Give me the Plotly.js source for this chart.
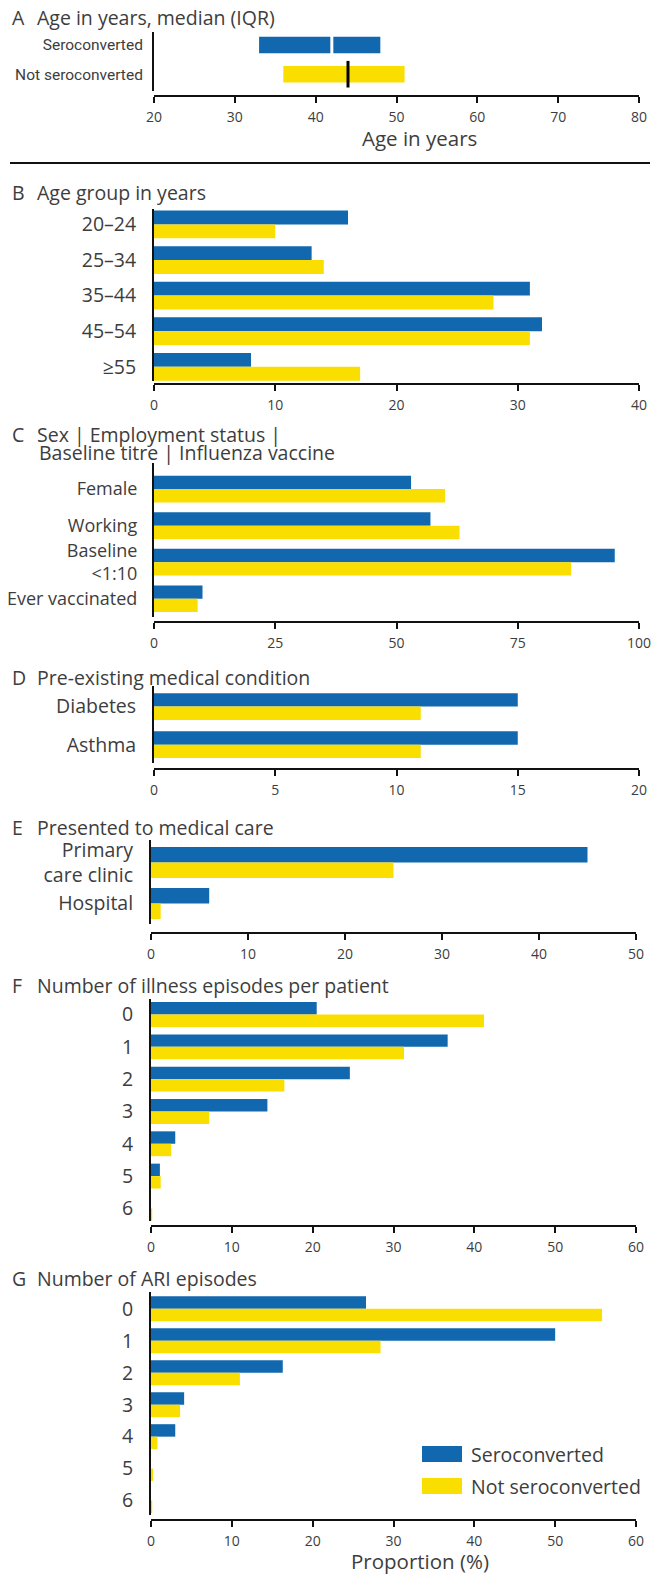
<!DOCTYPE html>
<html>
<head>
<meta charset="utf-8">
<script src="https://cdn.plot.ly/plotly-3.0.1.min.js"></script>
<style>
  html, body { margin: 0; padding: 0; background: #fff; }
  #chart { width: 661px; height: 1577px; }
</style>
</head>
<body>
<div id="chart"></div>
<script>
// ---- data ----
const seriesNames = ['Seroconverted', 'Not seroconverted'];
const seriesColors = ['#1168ae', '#fade00'];

// A: age, median and interquartile range
const ageQ1 = [33, 36];
const ageMedian = [42, 44];
const ageQ3 = [48, 51];

// B: age groups (%)
const ageGroups = ['20–24', '25–34', '35–44', '45–54', '≥55'];
const ageGroupSero = [16, 13, 31, 32, 8];
const ageGroupNotSero = [10, 14, 28, 31, 17];

// C: sex, employment, baseline titre, influenza vaccine (%)
const characteristics = ['Female', 'Working', 'Baseline<br>&lt;1:10', 'Ever vaccinated'];
const characteristicsSero = [53, 57, 95, 10];
const characteristicsNotSero = [60, 63, 86, 9];

// D: pre-existing conditions (%)
const conditions = ['Diabetes', 'Asthma'];
const conditionsSero = [15, 15];
const conditionsNotSero = [11, 11];

// E: medical care (%)
const careSettings = ['Primary<br>care clinic', 'Hospital'];
const careSero = [45, 6];
const careNotSero = [25, 1];

// F: illness episodes per patient (%)
const illnessEpisodes = ['0', '1', '2', '3', '4', '5', '6'];
const illnessSero = [20.5, 36.7, 24.6, 14.4, 3.0, 1.1, 0];
const illnessNotSero = [41.2, 31.3, 16.5, 7.2, 2.5, 1.2, 0.15];

// G: ARI episodes (%)
const ariEpisodes = ['0', '1', '2', '3', '4', '5', '6'];
const ariSero = [26.6, 50.0, 16.3, 4.1, 3.0, 0, 0];
const ariNotSero = [55.8, 28.4, 11.0, 3.6, 0.8, 0.25, 0.15];

const panelLetters = ['A', 'B', 'C', 'D', 'E', 'F', 'G'];
const panelTitles = [
  ['Age in years, median (IQR)'],
  ['Age group in years'],
  ['Sex | Employment status |', 'Baseline titre | Influenza vaccine'],
  ['Pre-existing medical condition'],
  ['Presented to medical care'],
  ['Number of illness episodes per patient'],
  ['Number of ARI episodes']
];
const ageAxisTitle = 'Age in years';
const proportionAxisTitle = 'Proportion (%)';

// ---- geometry (pixels) ----
const W = 661, H = 1577;
const px = x => x / W;
const py = y => 1 - y / H;

const panels = [
  { x0: 154, x1: 639, top: 32,   bottom: 91,   axisY: 96,   range: [20, 80],  dtick: 10, yRange: [1.575, -0.445], gap: 0,     titleY: [18],       labelSize: 15.5, standoff: 6 },
  { x0: 154, x1: 639, top: 209,  bottom: 381,  axisY: 384,  range: [0, 40],   dtick: 10, yRange: [4.40, -0.434],  gap: 0.22,  titleY: [193],      labelSize: 19.5, standoff: 12 },
  { x0: 154, x1: 639, top: 463,  bottom: 617,  axisY: 622,  range: [0, 100],  dtick: 25, yRange: [3.5, -0.714],   gap: 0.27,  titleY: [434, 452], labelSize: 18,   standoff: 11 },
  { x0: 154, x1: 639, top: 686,  bottom: 763,  axisY: 769,  range: [0, 20],   dtick: 5,  yRange: [1.48, -0.54],   gap: 0.3,   titleY: [677],      labelSize: 19.5, standoff: 12 },
  { x0: 151, x1: 636, top: 840,  bottom: 924,  axisY: 933,  range: [0, 50],   dtick: 10, yRange: [1.5, -0.55],    gap: 0.245, titleY: [827],      labelSize: 19.5, standoff: 12 },
  { x0: 151, x1: 636, top: 999,  bottom: 1221, axisY: 1226, range: [0, 60],   dtick: 10, yRange: [6.39, -0.48],   gap: 0.23,  titleY: [985],      labelSize: 19.5, standoff: 12 },
  { x0: 151, x1: 636, top: 1292, bottom: 1515, axisY: 1520, range: [0, 60],   dtick: 10, yRange: [6.45, -0.525],  gap: 0.22,  titleY: [1278],     labelSize: 19.5, standoff: 12 }
];

const FONT = 'Open Sans, Noto Sans, sans-serif';
const NARROW = 'Roboto, Open Sans, sans-serif';
const TEXT = '#3d3d3d';
const AXIS = '#111111';

const traces = [];

// A: interquartile bars with the median drawn on top
traces.push({
  type: 'bar', orientation: 'h', xaxis: 'x', yaxis: 'y',
  y: seriesNames,
  base: ageQ1,
  x: ageQ3.map((q, i) => q - ageQ1[i]),
  width: 0.565,
  marker: { color: seriesColors, line: { width: 0 } },
  hoverinfo: 'skip'
});
traces.push({
  type: 'scatter', mode: 'markers', xaxis: 'x', yaxis: 'y',
  y: seriesNames, x: ageMedian,
  marker: { symbol: 'line-ns', size: 19, line: { width: 3, color: ['#ffffff', '#000000'] } },
  hoverinfo: 'skip'
});

// B–G: paired horizontal bars
const barPanels = [
  [ageGroups, ageGroupSero, ageGroupNotSero],
  [characteristics, characteristicsSero, characteristicsNotSero],
  [conditions, conditionsSero, conditionsNotSero],
  [careSettings, careSero, careNotSero],
  [illnessEpisodes, illnessSero, illnessNotSero],
  [ariEpisodes, ariSero, ariNotSero]
];
barPanels.forEach((bp, k) => {
  const idx = k + 2;
  const w = (1 - panels[idx - 1].gap) / 2;
  [bp[1], bp[2]].forEach((vals, s) => {
    traces.push({
      type: 'bar', orientation: 'h',
      xaxis: 'x' + idx, yaxis: 'y' + idx,
      y: bp[0], x: vals,
      width: w, offset: s === 0 ? -w : 0,
      name: seriesNames[s],
      marker: { color: seriesColors[s], line: { width: 0 } },
      hoverinfo: 'skip'
    });
  });
});

const layout = {
  width: W, height: H,
  margin: { l: 0, r: 0, t: 0, b: 0 },
  paper_bgcolor: '#ffffff', plot_bgcolor: 'rgba(0,0,0,0)',
  showlegend: false,
  barmode: 'overlay',
  font: { family: FONT, color: TEXT },
  annotations: [],
  shapes: []
};

panels.forEach((p, i) => {
  const n = i === 0 ? '' : String(i + 1);
  layout['xaxis' + n] = {
    domain: [px(p.x0), px(p.x1)],
    anchor: 'free', position: py(p.axisY),
    range: p.range, tick0: p.range[0], dtick: p.dtick,
    showline: true, linecolor: AXIS, linewidth: 2,
    ticks: 'outside', ticklen: 6, tickwidth: 2, tickcolor: AXIS,
    ticklabelstandoff: 2,
    showgrid: false, zeroline: false,
    tickfont: { family: FONT, size: 14, color: TEXT },
    fixedrange: true
  };
  layout['yaxis' + n] = {
    domain: [py(p.bottom), py(p.top)],
    anchor: 'x' + n,
    type: 'category', range: p.yRange,
    showline: true, linecolor: AXIS, linewidth: 2,
    ticks: '', showgrid: false, zeroline: false,
    ticklabelstandoff: p.standoff,
    tickfont: { family: i === 0 ? NARROW : FONT, size: p.labelSize, color: TEXT },
    fixedrange: true
  };

  // panel heading
  layout.annotations.push({
    xref: 'paper', yref: 'paper', x: px(10), y: py(p.titleY[0]),
    xanchor: 'left', yanchor: 'middle', showarrow: false,
    text: panelLetters[i], font: { family: FONT, size: 19.5, color: TEXT }
  });
  panelTitles[i].forEach((line, j) => {
    layout.annotations.push({
      xref: 'paper', yref: 'paper', x: px(j === 0 ? 35 : 37), y: py(p.titleY[j]),
      xanchor: 'left', yanchor: 'middle', showarrow: false,
      text: line, font: { family: FONT, size: 19.5, color: TEXT }
    });
  });
});

// axis titles
layout.annotations.push({
  xref: 'paper', yref: 'paper', x: px(419), y: py(138),
  xanchor: 'center', yanchor: 'middle', showarrow: false,
  text: ageAxisTitle, font: { family: FONT, size: 20.5, color: TEXT }
});
layout.annotations.push({
  xref: 'paper', yref: 'paper', x: px(420), y: py(1561),
  xanchor: 'center', yanchor: 'middle', showarrow: false,
  text: proportionAxisTitle, font: { family: FONT, size: 20.5, color: TEXT }
});

// divider under panel A
layout.shapes.push({
  type: 'line', xref: 'paper', yref: 'paper',
  x0: px(10), x1: px(650), y0: py(163), y1: py(163),
  line: { color: AXIS, width: 2 }
});

// legend
const legendRows = [1454, 1486];
seriesNames.forEach((name, s) => {
  const cy = legendRows[s];
  layout.shapes.push({
    type: 'rect', xref: 'paper', yref: 'paper',
    x0: px(422), x1: px(462), y0: py(cy + 8), y1: py(cy - 8),
    fillcolor: seriesColors[s], line: { width: 0 }
  });
  layout.annotations.push({
    xref: 'paper', yref: 'paper', x: px(469), y: py(cy),
    xanchor: 'left', yanchor: 'middle', showarrow: false,
    text: name, font: { family: FONT, size: 19.5, color: TEXT }
  });
});

Plotly.newPlot('chart', traces, layout, { displayModeBar: false, staticPlot: true });
</script>
</body>
</html>
